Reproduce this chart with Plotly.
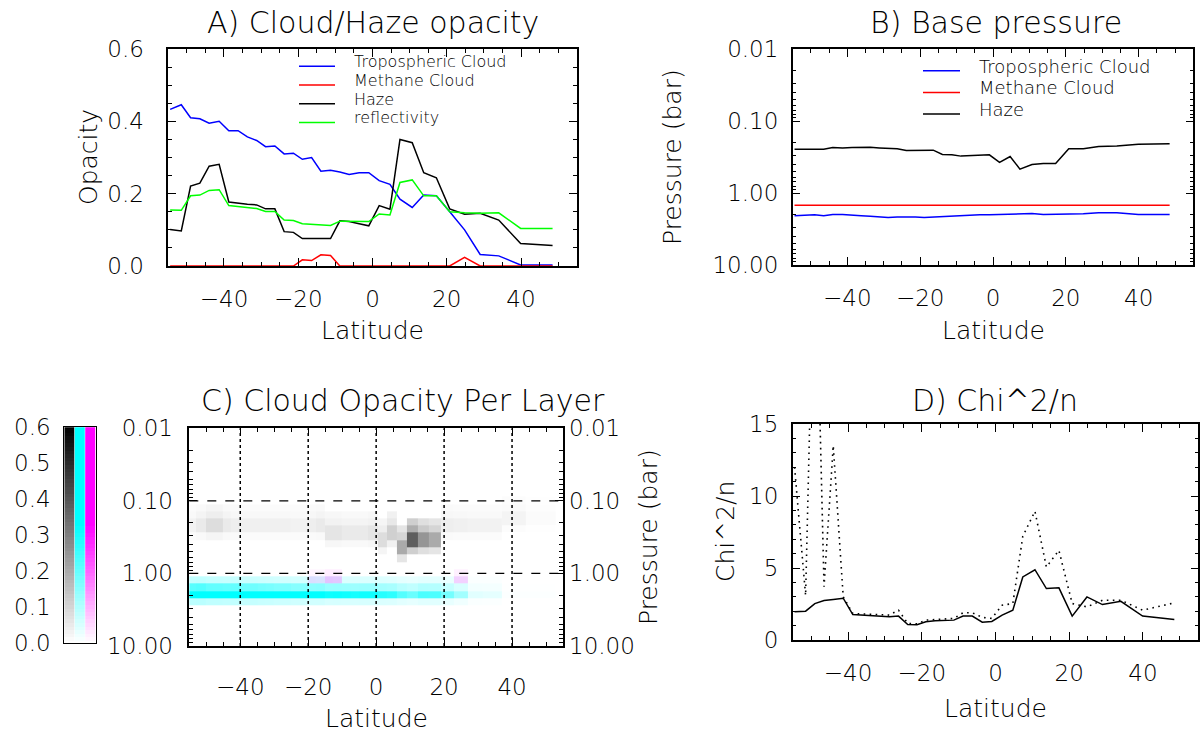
import numpy as np
import plotly.graph_objects as go

W, H = 1200, 733

# ---------------- data ----------------
latitude = [-54.5, -51.5, -49.0, -46.5, -44.0, -41.3, -38.7, -36.2, -33.7, -31.2,
            -28.8, -26.3, -23.8, -21.3, -18.9, -16.4, -13.9, -11.3, -8.8, -6.3,
            -3.6, -1.0, 1.8, 4.7, 7.4, 10.7, 13.8, 17.2, 20.8, 24.8,
            29.0, 34.0, 39.9, 48.5]

trop_opacity = [0.433, 0.446, 0.410, 0.407, 0.395, 0.400, 0.374, 0.374, 0.357, 0.347,
                0.330, 0.332, 0.310, 0.312, 0.295, 0.300, 0.262, 0.265, 0.260, 0.253,
                0.258, 0.258, 0.236, 0.226, 0.185, 0.162, 0.196, 0.194, 0.150, 0.100,
                0.032, 0.028, 0.003, 0.003]
methane_opacity = [0, 0, 0, 0, 0, 0, 0, 0, 0, 0,
                   0, 0, 0, 0, 0.017, 0.015, 0.031, 0.029, 0, 0,
                   0, 0, 0, 0, 0, 0, 0, 0, 0, 0.024,
                   0, 0, 0, 0]
haze_opacity = [0.101, 0.097, 0.221, 0.229, 0.276, 0.281, 0.177, 0.173, 0.171, 0.169,
                0.158, 0.158, 0.095, 0.093, 0.076, 0.076, 0.076, 0.076, 0.125, 0.123,
                0.117, 0.111, 0.167, 0.157, 0.350, 0.341, 0.258, 0.244, 0.158, 0.143,
                0.146, 0.127, 0.062, 0.057]
reflectivity = [0.155, 0.154, 0.194, 0.196, 0.209, 0.211, 0.167, 0.164, 0.161, 0.159,
                0.151, 0.151, 0.127, 0.126, 0.117, 0.116, 0.113, 0.112, 0.124, 0.124,
                0.123, 0.123, 0.144, 0.141, 0.231, 0.238, 0.194, 0.194, 0.150, 0.147,
                0.146, 0.147, 0.104, 0.104]

# base pressures (bar)
trop_base = [2.06, 2.02, 2.00, 2.06, 1.98, 1.98, 2.04, 2.06, 2.10, 2.13,
             2.18, 2.15, 2.13, 2.15, 2.18, 2.15, 2.13, 2.10, 2.04, 2.02,
             2.00, 2.00, 1.98, 1.96, 1.96, 1.92, 1.98, 1.98, 1.96, 1.94,
             1.88, 1.88, 1.98, 1.98]
methane_base = [1.48] * len(latitude)
haze_base = [0.245, 0.245, 0.245, 0.245, 0.232, 0.235, 0.232, 0.230, 0.230, 0.235,
             0.240, 0.242, 0.256, 0.256, 0.253, 0.253, 0.290, 0.294, 0.306, 0.303,
             0.294, 0.294, 0.375, 0.310, 0.464, 0.400, 0.387, 0.387, 0.242, 0.242,
             0.225, 0.222, 0.209, 0.206]

# peak per-layer haze opacity (panel C, grey channel)
haze_layer_peak = [0.03, 0.05, 0.08, 0.08, 0.05, 0.04, 0.035, 0.035, 0.035, 0.035,
                   0.035, 0.035, 0.03, 0.03, 0.04, 0.05, 0.06, 0.06, 0.05, 0.05,
                   0.05, 0.06, 0.08, 0.11, 0.20, 0.38, 0.25, 0.20, 0.04, 0.035,
                   0.03, 0.03, 0.025, 0.01]

# chi^2/n
chi2_n = [1.96, 2.00, 2.53, 2.74, 2.82, 2.90, 1.77, 1.73, 1.68, 1.64,
          1.61, 1.66, 1.08, 1.06, 1.27, 1.33, 1.38, 1.38, 1.66, 1.66,
          1.24, 1.29, 1.73, 2.07, 4.38, 4.88, 3.57, 3.62, 1.66, 2.99,
          2.46, 2.69, 1.66, 1.43]
chi2_n_alt = [12.0, 3.1, 30.0, 3.7, 13.5, 3.0, 1.84, 1.80, 1.77, 1.75,
              1.73, 2.07, 1.15, 1.12, 1.38, 1.42, 1.46, 1.50, 1.89, 1.89,
              1.57, 1.50, 2.42, 2.53, 7.20, 8.94, 5.07, 6.22, 2.53, 2.30,
              2.76, 2.76, 2.07, 2.58]

# pressure layer edges for panel C (bar)
layer_edges = [0.0110, 0.0138, 0.0174, 0.0219, 0.0275, 0.0347, 0.0437, 0.0550, 0.0692, 0.0871,
               0.110, 0.138, 0.174, 0.219, 0.275, 0.347, 0.437, 0.550, 0.692, 0.871,
               1.10, 1.38, 1.74, 2.19, 2.75, 3.47, 4.37, 5.50, 6.92, 8.71, 10.96]

# vertical distribution of each cloud relative to the layer holding its base
haze_offsets, haze_weights = [-3, -2, -1, 0, 1], [0.3, 0.5, 1.0, 1.0, 0.3]
trop_offsets, trop_weights = [-2, -1, 0, 1], [0.18, 0.5, 1.2, 0.2]
meth_offsets, meth_weights = [-2, -1], [0.8, 2.5]

lat_ticks = [-40, -20, 0, 20, 40]
p_ticks = [0.01, 0.1, 1, 10]
p_ticktext = ["0.01", "0.10", "1.00", "10.00"]
p_minor = [m * d for d in (0.01, 0.1, 1) for m in range(2, 10)]
cbar_levels = np.linspace(0, 0.6, 61)

# ---------------- helpers ----------------
FONT = "DejaVu Sans"
WEIGHT = 200
TICK_SIZE = 23


def px_dom(a, b, n):
    return [a / n, b / n]


def py_dom(top, bot):
    return [1 - bot / H, 1 - top / H]


def layered(values, bases, offsets, weights):
    nl = len(layer_edges) - 1
    z = np.zeros((nl, len(latitude)))
    for i in range(len(latitude)):
        r = int(np.searchsorted(layer_edges, bases[i]) - 1)
        for off, w in zip(offsets, weights):
            k = r + off
            if 0 <= k < nl:
                z[k, i] = values[i] * w
    return z


haze_z = layered(haze_layer_peak, haze_base, haze_offsets, haze_weights)
trop_z = layered(trop_opacity, trop_base, trop_offsets, trop_weights)
meth_z = layered(methane_opacity, methane_base, meth_offsets, meth_weights)

gray_cs = [[0, "rgba(0,0,0,0)"], [1, "rgba(0,0,0,1)"]]
cyan_cs = [[0, "rgba(0,255,255,0)"], [0.55, "rgba(0,255,255,1)"], [1, "rgba(0,255,255,1)"]]
mag_cs = [[0, "rgba(255,0,255,0)"], [0.55, "rgba(255,0,255,1)"], [1, "rgba(255,0,255,1)"]]

fig = go.Figure()

# Panel A
fig.add_trace(go.Scatter(x=latitude, y=trop_opacity, mode="lines", line=dict(color="#0000ff", width=1.5),
                         name="Tropospheric Cloud", xaxis="x", yaxis="y", showlegend=False))
fig.add_trace(go.Scatter(x=latitude, y=methane_opacity, mode="lines", line=dict(color="#ff0000", width=1.5),
                         name="Methane Cloud", xaxis="x", yaxis="y", showlegend=False))
fig.add_trace(go.Scatter(x=latitude, y=haze_opacity, mode="lines", line=dict(color="#000000", width=1.5),
                         name="Haze", xaxis="x", yaxis="y", showlegend=False))
fig.add_trace(go.Scatter(x=latitude, y=reflectivity, mode="lines", line=dict(color="#00ff00", width=1.5),
                         name="reflectivity", xaxis="x", yaxis="y", showlegend=False))

# Panel B
fig.add_trace(go.Scatter(x=latitude, y=trop_base, mode="lines", line=dict(color="#0000ff", width=1.5),
                         name="Tropospheric Cloud", xaxis="x2", yaxis="y2", showlegend=False))
fig.add_trace(go.Scatter(x=latitude, y=methane_base, mode="lines", line=dict(color="#ff0000", width=1.5),
                         name="Methane Cloud", xaxis="x2", yaxis="y2", showlegend=False))
fig.add_trace(go.Scatter(x=latitude, y=haze_base, mode="lines", line=dict(color="#000000", width=1.5),
                         name="Haze", xaxis="x2", yaxis="y2", showlegend=False))

# Panel C
for z, cs in ((haze_z, gray_cs), (trop_z, cyan_cs), (meth_z, mag_cs)):
    fig.add_trace(go.Heatmap(x=latitude, y=layer_edges, z=z, colorscale=cs, zmin=0, zmax=0.6,
                             showscale=False, xaxis="x3", yaxis="y3", hoverinfo="skip"))
fig.add_trace(go.Scatter(x=[], y=[], xaxis="x3", yaxis="y6", showlegend=False))

# Panel D
fig.add_trace(go.Scatter(x=latitude, y=chi2_n, mode="lines", line=dict(color="black", width=1.5),
                         xaxis="x4", yaxis="y4", showlegend=False))
fig.add_trace(go.Scatter(x=latitude, y=chi2_n_alt, mode="lines",
                         line=dict(color="black", width=1.6, dash="1.6px,4.4px"),
                         xaxis="x4", yaxis="y4", showlegend=False))

# Colour bar (three channels)
for k, cs in enumerate((gray_cs, cyan_cs, mag_cs)):
    fig.add_trace(go.Heatmap(x=[k], y=cbar_levels, z=[[v] for v in cbar_levels], colorscale=cs,
                             zmin=0, zmax=0.6, showscale=False, xaxis="x5", yaxis="y5", hoverinfo="skip"))

tickfont = dict(family=FONT, size=TICK_SIZE, color="black", weight=WEIGHT)


def xax(dom, anchor, standoff, labels=True):
    return dict(domain=dom, anchor=anchor, range=[-55, 55], tickmode="array", tickvals=lat_ticks,
                ticks="inside", ticklen=8, tickwidth=1.2, tickcolor="black",
                minor=dict(dtick=5, tick0=0, ticks="inside", ticklen=4, tickcolor="black", tickwidth=1),
                showline=True, linecolor="black", linewidth=1.5, mirror="ticks", showgrid=False,
                zeroline=False, tickfont=tickfont, ticklabelstandoff=standoff, showticklabels=labels,
                automargin=False)


layout = dict(width=W, height=H, margin=dict(l=0, r=0, t=0, b=0, pad=0, autoexpand=False),
              paper_bgcolor="white", plot_bgcolor="white", showlegend=False)

layout["xaxis"] = xax(px_dom(168.3, 576.7, W), "y", 12)
layout["yaxis"] = dict(domain=py_dom(49, 266), anchor="x", range=[0, 0.6], tickmode="array",
                       tickvals=[0, 0.2, 0.4, 0.6], ticktext=["0.0", "0.2", "0.4", "0.6"],
                       ticks="inside", ticklen=8, tickcolor="black", tickwidth=1.2,
                       minor=dict(dtick=0.05, tick0=0, ticks="inside", ticklen=4, tickcolor="black"),
                       showline=True, linecolor="black", linewidth=1.5, mirror="ticks", showgrid=False,
                       zeroline=False, tickfont=tickfont, ticklabelstandoff=18, automargin=False)

layout["xaxis2"] = xax(px_dom(792.7, 1193.3, W), "y2", 12)
logy = dict(type="log", range=[1, -2], tickmode="array", tickvals=p_ticks, ticktext=p_ticktext,
            ticks="inside", ticklen=8, tickcolor="black", tickwidth=1.2,
            minor=dict(tickmode="array", tickvals=p_minor, ticks="inside", ticklen=4, tickcolor="black"),
            showline=True, linecolor="black", linewidth=1.5, showgrid=False, zeroline=False,
            tickfont=tickfont, automargin=False)
layout["yaxis2"] = dict(logy, domain=py_dom(49.3, 265), anchor="x2", mirror="ticks", ticklabelstandoff=8)

layout["xaxis3"] = xax(px_dom(189.3, 563, W), "y3", 20)
layout["yaxis3"] = dict(logy, domain=py_dom(428.3, 646), anchor="x3", mirror="ticks", ticklabelstandoff=10)
layout["yaxis6"] = dict(logy, overlaying="y3", side="right", anchor="x3", ticks="", minor=dict(ticks=""),
                        showline=False, ticklabelstandoff=5)

layout["xaxis4"] = xax(px_dom(792.7, 1198.3, W), "y4", 12)
layout["yaxis4"] = dict(domain=py_dom(424, 640), anchor="x4", range=[0, 15], tickmode="array",
                        tickvals=[0, 5, 10, 15], ticks="inside", ticklen=8, tickcolor="black", tickwidth=1.2,
                        minor=dict(dtick=1, tick0=0, ticks="inside", ticklen=4, tickcolor="black"),
                        showline=True, linecolor="black", linewidth=1.5, mirror="ticks", showgrid=False,
                        zeroline=False, tickfont=tickfont, ticklabelstandoff=8, automargin=False)

layout["xaxis5"] = dict(domain=px_dom(64.3, 95.7, W), anchor="y5", range=[-0.5, 2.5], showticklabels=False,
                        ticks="", showline=True, linecolor="black", linewidth=1.2, mirror=True,
                        showgrid=False, zeroline=False, automargin=False)
layout["yaxis5"] = dict(domain=py_dom(427.3, 642.7), anchor="x5", range=[0, 0.6], tickmode="array",
                        tickvals=[0, 0.1, 0.2, 0.3, 0.4, 0.5, 0.6],
                        ticktext=["0.0", "0.1", "0.2", "0.3", "0.4", "0.5", "0.6"], ticks="",
                        showline=True, linecolor="black", linewidth=1.2, mirror=True, showgrid=False,
                        zeroline=False, tickfont=tickfont, ticklabelstandoff=8, automargin=False)

fig.update_layout(**layout)

# grid lines of panel C drawn above the image
shapes = []
for t in lat_ticks:
    shapes.append(dict(type="line", xref="x3", yref="y3 domain", x0=t, x1=t, y0=0, y1=1,
                       line=dict(color="black", width=1.5, dash="dot"), layer="above"))
for p in p_ticks[1:-1]:
    shapes.append(dict(type="line", xref="x3 domain", yref="y3", x0=0, x1=1, y0=p, y1=p,
                       line=dict(color="black", width=1.2, dash="dash"), layer="above"))

annotations = []


def text(x, y, s, size, angle=0, anchor="center"):
    annotations.append(dict(x=x / W, y=1 - y / H, xref="paper", yref="paper", text=s, showarrow=False,
                            xanchor=anchor, yanchor="middle", textangle=angle, borderpad=0,
                            font=dict(family=FONT, size=size, color="black", weight=WEIGHT)))


# titles
text(372.7, 23, "A) Cloud/Haze opacity", 30)
text(996, 23, "B) Base pressure", 30)
text(403, 400, "C) Cloud Opacity Per Layer", 30)
text(995, 400, "D) Chi^2/n", 30)
# axis titles
text(372.7, 331, "Latitude", 25)
text(993, 331, "Latitude", 25)
text(376, 718, "Latitude", 25)
text(995, 708, "Latitude", 25)
text(88, 157, "Opacity", 25, -90)
text(672, 157, "Pressure (bar)", 25, -90)
text(648, 537, "Pressure (bar)", 25, -90)
text(725, 532, "Chi^2/n", 25, -90)

# legends
legA = [("Tropospheric Cloud", "#0000ff"), ("Methane Cloud", "#ff0000"), ("Haze", "#000000"),
        ("reflectivity", "#00ff00")]
for i, (lab, col) in enumerate(legA):
    y = 66.3 + 18.7 * i
    shapes.append(dict(type="line", xref="paper", yref="paper", x0=299 / W, x1=335 / W,
                       y0=1 - y / H, y1=1 - y / H, line=dict(color=col, width=1.5)))
    text(353, y - 4.5, lab, 16, anchor="left")
legB = [("Tropospheric Cloud", "#0000ff"), ("Methane Cloud", "#ff0000"), ("Haze", "#000000")]
for i, (lab, col) in enumerate(legB):
    y = 70.7 + 21.7 * i
    shapes.append(dict(type="line", xref="paper", yref="paper", x0=923 / W, x1=960 / W,
                       y0=1 - y / H, y1=1 - y / H, line=dict(color=col, width=1.5)))
    text(978, y - 4.5, lab, 18, anchor="left")

fig.update_layout(shapes=shapes, annotations=annotations)
fig.write_html("out.html")
